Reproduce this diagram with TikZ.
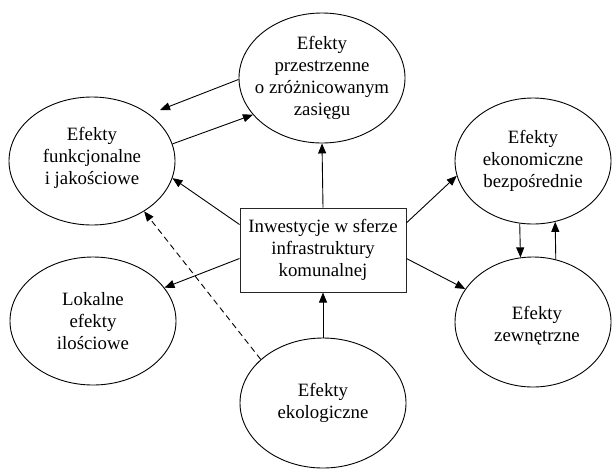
\documentclass[tikz,border=0pt]{standalone}
\usepackage{fontspec}
\setmainfont{Liberation Serif}
\usetikzlibrary{shapes.geometric,arrows.meta,calc}
\begin{document}
\begin{tikzpicture}[x=1pt,y=-1pt,
  ell/.style={draw,ellipse,inner sep=0pt,line width=0.9pt},
  boxst/.style={draw=black!85,rectangle,inner sep=0pt,line width=1pt,minimum width=166pt,minimum height=84pt},
  lbl/.style={align=center,font=\fontsize{18.8}{21.8}\selectfont,inner sep=0pt},
  arr/.style={-{Triangle[length=10pt,width=8pt]},line width=0.9pt},
  dasharr/.style={arr,dash pattern=on 6pt off 4pt},
  ]
\useasboundingbox (0,0) rectangle (612,469);
% ellipses
\node[ell,minimum width=166pt,minimum height=130pt] (top) at (322,78) {};
\node[ell,minimum width=166pt,minimum height=128pt] (fun) at (92,161) {};
\node[ell,minimum width=156pt,minimum height=126pt] (eko) at (533,161) {};
\node[ell,minimum width=166pt,minimum height=128pt] (lok) at (93,321) {};
\node[ell,minimum width=156pt,minimum height=130pt] (zew) at (533,322) {};
\node[ell,minimum width=166pt,minimum height=130pt] (ekol) at (323,403) {};
\node[boxst] (box) at (323,250) {};
% labels
\node[lbl] (topT) at (top) {Efekty\\przestrzenne\\o zróżnicowanym\\zasięgu};
\node[lbl] (funT) at (92,158) {Efekty\\funkcjonalne\\i jakościowe};
\node[lbl] (ekoT) at (eko) {Efekty\\ekonomiczne\\bezpośrednie};
\node[lbl] (lokT) at (lok) {Lokalne\\efekty\\ilościowe};
\node[lbl] (zewT) at (537,326) {Efekty\\zewnętrzne};
\node[lbl] (ekolT) at (ekol) {Efekty\\ekologiczne};
\node[lbl] (boxT) at (box) {Inwestycje w sferze\\infrastruktury\\komunalnej};
% connectors
\draw[arr] (top.181) -- ($(fun.center)+(68,-51)$);
\draw[arr] (fun.12) -- (top.208);
\draw[arr] (box.north) -- (top.south);
\draw[arr] ($(box.north west)!0.2!(box.south west)$) -- (fun.-12);
\draw[arr] ($(box.north east)!0.18!(box.south east)$) -- (eko.191);
\draw[arr] ($(box.north west)!0.6!(box.south west)$) -- (lok.25);
\draw[arr] ($(box.north east)!0.6!(box.south east)$) -- (zew.154);
\draw[arr] (ekol.north) -- (box.south);
\draw[dasharr] (ekol.145) -- (fun.-44);
\draw[arr] (eko.258) -- (zew.101.5);
\draw[arr] (zew.70.6) -- (eko.290);
\end{tikzpicture}
\end{document}
